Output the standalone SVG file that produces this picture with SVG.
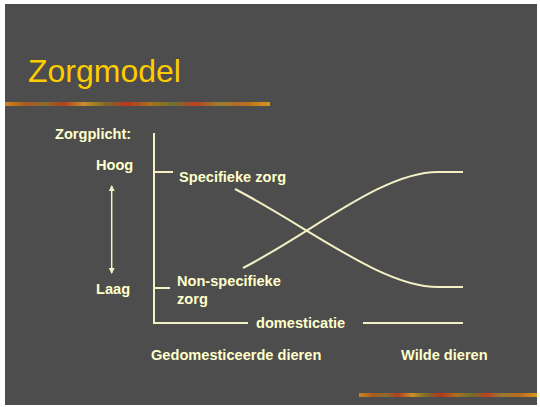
<svg xmlns="http://www.w3.org/2000/svg" width="540" height="407" viewBox="0 0 540 407">
<defs>
<style>
.t{font-family:"Liberation Sans",Arial,sans-serif;font-weight:bold;font-size:14.6px;fill:#ffffcc}
.ln{stroke:#f2f0c4;stroke-width:2;fill:none}
</style>
<linearGradient id="bar" x1="0" y1="0" x2="1" y2="0">
<stop offset="0" stop-color="#c8861c"/>
<stop offset="0.08" stop-color="#a85c20"/>
<stop offset="0.15" stop-color="#8c6a30"/>
<stop offset="0.22" stop-color="#b0401c"/>
<stop offset="0.3" stop-color="#c8902a"/>
<stop offset="0.38" stop-color="#7a6a2a"/>
<stop offset="0.46" stop-color="#b8361c"/>
<stop offset="0.55" stop-color="#a8701c"/>
<stop offset="0.63" stop-color="#6e7030"/>
<stop offset="0.72" stop-color="#c04020"/>
<stop offset="0.8" stop-color="#987a30"/>
<stop offset="0.9" stop-color="#b86a22"/>
<stop offset="1" stop-color="#d8961c"/>
</linearGradient>
<marker id="ah" viewBox="0 0 6 6" refX="5" refY="3" markerWidth="6" markerHeight="6" orient="auto-start-reverse" markerUnits="userSpaceOnUse">
<path d="M0,0 L6,3 L0,6 z" fill="#f2f0c4"/>
</marker>
</defs>
<rect x="0" y="0" width="540" height="407" fill="#ffffff"/>
<rect x="5" y="4" width="532" height="401" fill="#4d4d4d"/>
<g id="title">
<text x="28" y="82" font-family="Liberation Sans, Arial, sans-serif" font-size="32" fill="#ffcc00">Zorgmodel</text>
</g>
<rect x="5" y="102" width="265" height="4" fill="url(#bar)"/>
<rect x="359" y="393" width="178" height="4" fill="url(#bar)"/>
<g id="axes">
<line class="ln" x1="154" y1="133" x2="154" y2="324"/>
<line class="ln" x1="154" y1="172" x2="173" y2="172"/>
<line class="ln" x1="154" y1="288" x2="170" y2="288"/>
<line class="ln" x1="153" y1="323" x2="248" y2="323"/>
<line class="ln" x1="363" y1="323" x2="463" y2="323"/>
</g>
<g id="connectors">
<line x1="111.7" y1="186" x2="111.7" y2="273" stroke="#f2f0c4" stroke-width="1.5" marker-start="url(#ah)" marker-end="url(#ah)"/>
<path class="ln" d="M235,189 C310,228 382,287 438,287 L463,287"/>
<path class="ln" d="M243,268 C313,232 382,172 438,172 L463,172"/>
</g>
<g id="labels">
<text class="t" x="55" y="139">Zorgplicht:</text>
<text class="t" x="96" y="170">Hoog</text>
<text class="t" x="96" y="294">Laag</text>
<text class="t" x="179" y="182">Specifieke zorg</text>
<text class="t" x="177" y="286">Non-specifieke</text>
<text class="t" x="177" y="304">zorg</text>
<text class="t" x="256" y="328">domesticatie</text>
<text class="t" x="151" y="360">Gedomesticeerde dieren</text>
<text class="t" x="401" y="360">Wilde dieren</text>
</g>
</svg>
